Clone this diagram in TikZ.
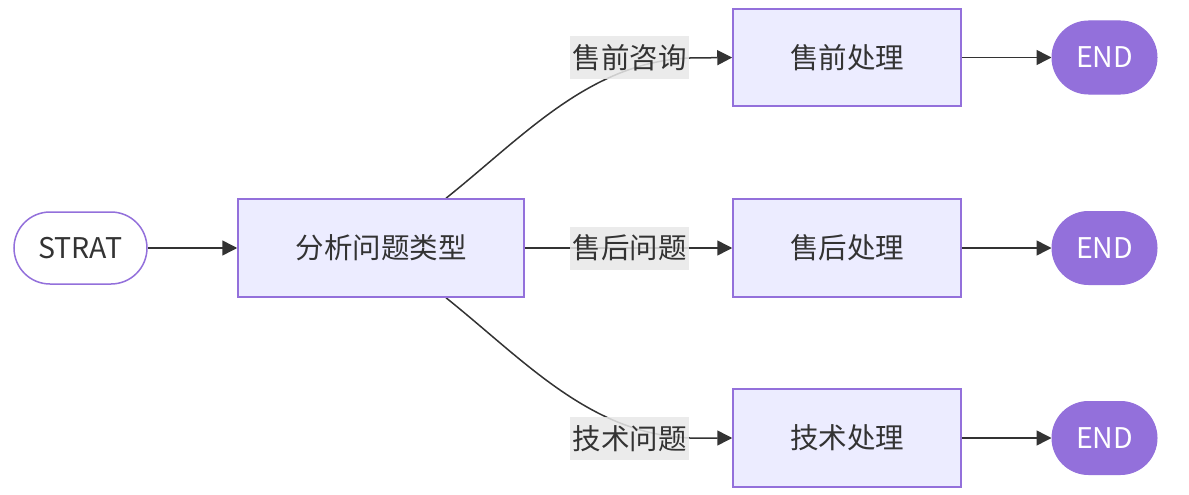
\documentclass[tikz,border=0pt]{standalone}
\usepackage{fontspec}
\setmainfont{Noto Sans CJK SC}
\usetikzlibrary{arrows.meta}
\definecolor{boxfill}{HTML}{ECECFF}
\definecolor{boxdraw}{HTML}{9370DB}
\definecolor{edgec}{HTML}{333333}
\definecolor{labbg}{HTML}{E8E8E8}
\pgfdeclarelayer{background}
\pgfsetlayers{background,main}
\tikzset{
  txt/.style={font=\fontsize{28.5pt}{32pt}\selectfont},
  box/.style={draw=boxdraw, fill=boxfill, line width=1.5pt, text=edgec, txt, inner sep=0pt},
  startn/.style={draw=boxdraw, fill=white, line width=1.5pt, text=edgec, minimum width=133pt, minimum height=72pt, rounded corners=36pt, txt, inner sep=0pt},
  endn/.style={draw=boxdraw, fill=boxdraw, line width=1pt, text=white, minimum width=105pt, minimum height=73pt, rounded corners=36.5pt, txt, inner sep=0pt},
  lab/.style={fill=labbg, fill opacity=0.85, text opacity=1, text=edgec, minimum width=119pt, minimum height=43pt, inner sep=0pt, txt},
  edge/.style={draw=edgec, line width=1.5pt, -{Triangle[length=15pt,width=15pt]}},
}
\begin{document}
\begin{tikzpicture}[x=1pt,y=-1pt]
\useasboundingbox (0,0) rectangle (1189,495);
\node[startn] (s) at (80.5,248) {STRAT};
\node[box, minimum width=286pt, minimum height=98pt] (a) at (381,248) {分析问题类型};
\node[box, minimum width=228pt, minimum height=97pt] (b1) at (847,57.5) {售前处理};
\node[box, minimum width=228pt, minimum height=98pt] (b2) at (847,248) {售后处理};
\node[box, minimum width=228pt, minimum height=98pt] (b3) at (847,438) {技术处理};
\node[endn] (e1) at (1104.5,57.5) {END};
\node[endn] (e2) at (1104.5,248) {END};
\node[endn] (e3) at (1104.5,438) {END};
\node[lab] (l1) at (629.5,57.5) {售前咨询};
\node[lab] (l2) at (629.5,248) {售后问题};
\node[lab] (l3) at (629.5,438.5) {技术问题};
\begin{pgfonlayer}{background}
\draw[edge] (s) -- (a);
\draw[edge] ([xshift=65pt]a.north) .. controls (525,135) and (590,62) .. (690,58) -- (b1.west);
\draw[edge] (a.east) -- (b2.west);
\draw[edge] ([xshift=65pt]a.south) .. controls (525,361) and (590,434) .. (690,438) -- (b3.west);
\draw[edge] (b1.east) -- (e1.west);
\draw[edge] (b2.east) -- (e2.west);
\draw[edge] (b3.east) -- (e3.west);
\end{pgfonlayer}
\end{tikzpicture}
\end{document}
